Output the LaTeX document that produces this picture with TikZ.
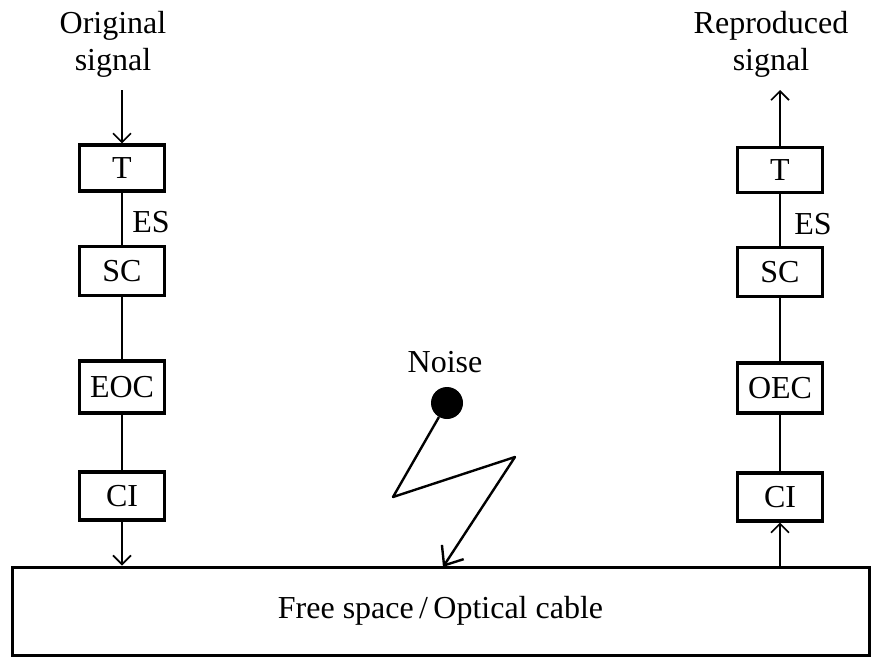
\documentclass[tikz,border=0pt]{standalone}
\usepackage{fontspec}
\setmainfont{Liberation Serif}
\usetikzlibrary{arrows.meta}
\begin{document}
\begin{tikzpicture}[x=1pt,y=-1pt,
  every node/.style={font=\fontsize{32}{37}\selectfont},
  blk/.style={draw,line width=3.2pt,minimum width=85pt,inner sep=0pt},
  conn/.style={line width=1.6pt},
  arr/.style={conn,-{Straight Barb[length=9pt,width=18pt,line width=1.6pt]}},
  lbl/.style={align=center,inner sep=0pt}]
\useasboundingbox (0,0) rectangle (871,662);
% left chain
\node[blk,minimum height=46pt] (T1) at (122,168) {T};
\node[blk,minimum height=49pt] (SC1) at (122,271) {SC};
\node[blk,minimum height=52pt] (EOC) at (122,387) {EOC};
\node[blk,minimum height=48pt] (CI1) at (122,496) {CI};
% right chain
\node[blk,minimum height=45pt] (T2) at (780,170) {T};
\node[blk,minimum height=49pt] (SC2) at (780,272) {SC};
\node[blk,minimum height=50pt] (OEC) at (780,388) {OEC};
\node[blk,minimum height=48pt] (CI2) at (780,497) {CI};
% channel
\node[draw,line width=3pt,minimum width=857pt,minimum height=88pt,inner sep=0pt] (ch) at (440.5,611) {Free space\,/\,Optical cable};
% labels
\node[lbl] (orig) at (113,44) {Original\\signal};
\node[lbl] (repr) at (771,44) {Reproduced\\signal};
\node[inner sep=0pt] (es1) at (151,222) {ES};
\node[inner sep=0pt] (es2) at (813,224) {ES};
\node[inner sep=0pt] (noise) at (445,362) {Noise};
\node[circle,fill=black,minimum size=32pt,inner sep=0pt] (dot) at (447,403) {};
% connector ends
\coordinate (in1) at (122,90);
\coordinate (out2) at (780,90);
\coordinate (z1) at (393,497);
\coordinate (z2) at (515,457);
\coordinate (hit) at (443,567);
% connectors
\draw[arr] (in1) -- (T1.north);
\draw[conn] (T1) -- (SC1);
\draw[conn] (SC1) -- (EOC);
\draw[conn] (EOC) -- (CI1);
\draw[arr] (CI1.south) -- (CI1.south |- ch.north);
\draw[arr] (T2.north) -- (out2);
\draw[conn] (T2) -- (SC2);
\draw[conn] (SC2) -- (OEC);
\draw[conn] (OEC) -- (CI2);
\draw[arr] (CI2.south |- ch.north) -- (CI2.south);
\draw[line width=2.4pt,line join=round,-{Straight Barb[length=16pt,width=26pt,line width=2.4pt]}] (dot) -- (z1) -- (z2) -- (hit);
\end{tikzpicture}
\end{document}
